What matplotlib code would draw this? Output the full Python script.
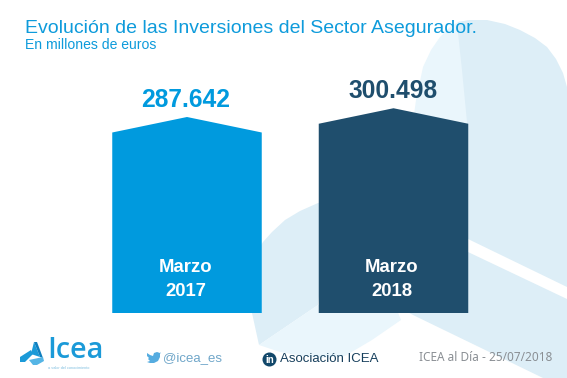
import numpy as np
import matplotlib
matplotlib.use("Agg")
import matplotlib.pyplot as plt
from matplotlib.patches import Polygon, Circle

plt.rcParams['font.family'] = ['Liberation Sans', 'DejaVu Sans']

periods = ["Marzo\n2017", "Marzo\n2018"]
values = [287642, 300498]
value_labels = ["287.642", "300.498"]
colors = ["#009ADE", "#1F4E6D"]
title = "Evolución de las Inversiones del Sector Asegurador."
subtitle = "En millones de euros"

W, H = 567, 378
fig = plt.figure(figsize=(W/100, H/100), dpi=100, facecolor="white")

# decoration layer in pixel coordinates
bg = fig.add_axes([0, 0, 1, 1], zorder=0)
bg.set_xlim(0, W); bg.set_ylim(H, 0); bg.axis("off")
C1, C2 = "#DDEEF7", "#EAF6FC"
upper_light = [(413,122),(416,100),(423,67),(431,50),(440,37),(449,28),(458,22),(470,20),(470,125)]
upper_dark = [(458,33),(462,70),(467,122),(468,239),(567,287),(567,87),(563,73),(556,59),(547,47),
              (535,38),(520,30),(505,24),(487,20),(470,20),(458,22)]
lower_right = [(468,252),(567,299),(567,378),(543,378),(413,315),(395,305),(468,305)]
lower_left = [(252,313),(259,345),(318,305),(330,200),(318,203),(300,211),(285,220),(272,232),(263,242),(252,260)]
lower_light = [(259,345),(318,305),(395,305),(401,320),(372,340),(345,356),(320,358),(297,355),(280,352)]
for pts, c in [(upper_light,C2),(upper_dark,C1),(lower_right,C1),(lower_left,C1),(lower_light,C2)]:
    bg.add_patch(Polygon(pts, closed=True, fc=c, ec="none"))

# bars
px_per_unit = 196/287642
shoulder_drop = 15.5/px_per_unit
half_width = 74.75/206.5
ax = fig.add_axes([0, (H-313)/H, 1, 313/H], zorder=1)
ax.patch.set_alpha(0)
ax.set_xlim(-187/206.5, (W-187)/206.5)
ax.set_ylim(0, 313/px_per_unit)
ax.axis("off")
for i, (v, c, lab, per) in enumerate(zip(values, colors, value_labels, periods)):
    ax.fill([i-half_width, i-half_width, i, i+half_width, i+half_width],
            [0, v-shoulder_drop, v, v-shoulder_drop, 0], color=c, lw=0)
    ax.annotate(lab, (i, v), xytext=(-1+i, 5), textcoords="offset pixels", ha="center", va="bottom",
                color=c, fontsize=17.7, fontweight="bold")
    a, b = per.split("\n")
    ax.annotate(a, (i, 45.5/px_per_unit), xytext=(-1-i, 0), textcoords="offset pixels",
                ha="center", va="center", color="white", fontsize=13.3, fontweight="bold")
    ax.annotate(b, (i, 21.5/px_per_unit), xytext=(-1-i, 0), textcoords="offset pixels",
                ha="center", va="center", color="white", fontsize=13.3, fontweight="bold")

# text & footer layer
fg = fig.add_axes([0, 0, 1, 1], zorder=2)
fg.set_xlim(0, W); fg.set_ylim(H, 0); fg.axis("off"); fg.patch.set_alpha(0)
fg.text(25, 33, title, color="#0E9BDB", fontsize=14.0, va="baseline")
fg.text(25, 49, subtitle, color="#0E9BDB", fontsize=10.1, va="baseline")

# logo
LB = "#1B9AD8"
fg.add_patch(Polygon([(34,342),(40,357),(31,354)], fc=LB, ec="none"))
fg.add_patch(Polygon([(34,342),(37,342),(43,358),(40,357)], fc="#0F7FBF", ec="none"))
fg.add_patch(Polygon([(20,357),(31,350),(33,354),(25,362),(20,362)], fc=LB, ec="none"))
fg.add_patch(Polygon([(29,360),(43,357),(44,361),(37,365),(33,365)], fc="#55B5E5", ec="none"))
fg.text(47, 358.5, "Icea", color=LB, fontsize=20.8, fontweight="semibold", family="Open Sans", va="baseline")
fg.text(48, 369, "a valor del conocimiento", color="#7FBFE0", fontsize=2.8, va="baseline")

# twitter bird
fg.add_patch(Polygon([(147,353),(150,355),(153,356),(154,353),(157,352),(160,353),(161,352),(160,354),
                      (160,357),(158,361),(154,363),(150,363),(147,362),(150,361),(148,359),(149,358),(147,356)],
                     fc="#55ACE0", ec="none"))
fg.text(163, 361.5, "@icea_es", color="#6FA6C9", fontsize=9.5, va="baseline")

# linkedin
fg.add_patch(Circle((269.5, 359.5), 7, fc="#13486A", ec="none"))
fg.text(269.5, 360, "in", color="white", fontsize=7, fontweight="bold", ha="center", va="center")
fg.text(280, 362, "Asociación ICEA", color="#163F5C", fontsize=9.5, va="baseline")

fg.text(419, 361, "ICEA al Día - 25/07/2018", color="#8A8F94", fontsize=8.5, family="Noto Sans", va="baseline")

fig.savefig("out.png", dpi=100, facecolor="white")
